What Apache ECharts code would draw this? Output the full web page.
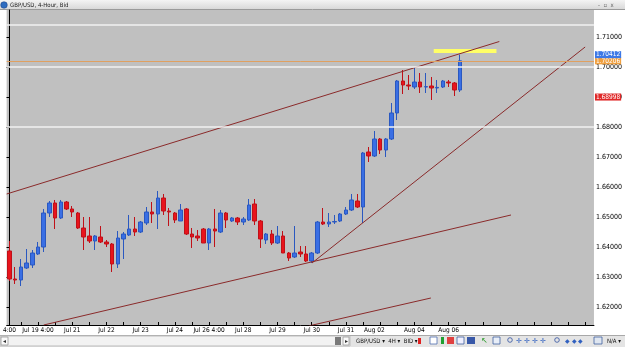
<!DOCTYPE html>
<html><head><meta charset="utf-8">
<script src="https://cdn.jsdelivr.net/npm/echarts@6/dist/echarts.min.js"></script>
<style>html,body{margin:0;padding:0;background:#fff}#c{width:625px;height:347px}</style>
</head><body><div id="c"></div>
<script>
// ---- data (GBP/USD, 4-Hour, Bid) ----
const opens  = [1.63867,1.62933,1.62900,1.63300,1.63400,1.63767,1.64000,1.65133,1.65467,1.64967,
                1.65500,1.65267,1.65133,1.64633,1.64367,1.64200,1.64333,1.64167,1.64100,1.63433,
                1.64267,1.64400,1.64600,1.64500,1.64800,1.65167,1.65100,1.65633,1.65200,1.65133,
                1.64867,1.65267,1.64433,1.64367,1.64600,1.64133,1.64600,1.64500,1.65133,1.64867,
                1.64967,1.64833,1.64900,1.65433,1.64867,1.64233,1.64433,1.64133,1.64367,1.63800,
                1.63667,1.63833,1.63767,1.63533,1.63800,1.64833,1.64767,1.64833,1.64867,1.65100,
                1.65233,1.65533,1.65333,1.67167,1.67033,1.67600,1.67233,1.67600,1.68467,1.69533,
                1.69400,1.69333,1.69500,1.69333,1.69367,1.69300,1.69333,1.69500,1.69467,1.69233];
const closes = [1.62933,1.62900,1.63333,1.63467,1.63800,1.64000,1.65133,1.65467,1.64967,1.65500,
                1.65267,1.65167,1.64633,1.64333,1.64200,1.64367,1.64167,1.64100,1.63433,1.64300,
                1.64433,1.64600,1.64500,1.64833,1.65167,1.65100,1.65633,1.65200,1.65167,1.64900,
                1.65233,1.64433,1.64333,1.64300,1.64133,1.64600,1.64533,1.65133,1.64900,1.64967,
                1.64833,1.64933,1.65400,1.64867,1.64267,1.64433,1.64133,1.64367,1.63800,1.63633,
                1.63800,1.63767,1.63533,1.63800,1.64833,1.64767,1.64833,1.64850,1.65100,1.65233,
                1.65567,1.65333,1.67133,1.67033,1.67600,1.67233,1.67600,1.68467,1.69533,1.69400,
                1.69367,1.69500,1.69333,1.69345,1.69300,1.69320,1.69533,1.69467,1.69233,1.70206];
const lows   = [1.62867,1.62767,1.62700,1.63267,1.63300,1.63733,1.63833,1.65000,1.64600,1.64933,
                1.65233,1.65000,1.64600,1.63900,1.64133,1.63900,1.64133,1.64000,1.63167,1.63300,
                1.63600,1.64367,1.64367,1.64467,1.64733,1.64800,1.64600,1.65067,1.64700,1.64800,
                1.64867,1.64400,1.63967,1.64200,1.64133,1.63900,1.64000,1.64467,1.64633,1.64833,
                1.64733,1.64733,1.64867,1.64733,1.63967,1.64100,1.64067,1.64100,1.63800,1.63533,
                1.63633,1.63667,1.63500,1.63467,1.63767,1.64733,1.64667,1.64767,1.64833,1.65067,
                1.65200,1.65300,1.64800,1.66833,1.67000,1.67100,1.67000,1.67567,1.68233,1.69100,
                1.69233,1.69267,1.69133,1.69133,1.68900,1.69133,1.69300,1.69333,1.69033,1.69167];
const highs  = [1.64200,1.63333,1.63600,1.63933,1.63900,1.64167,1.65267,1.65533,1.65567,1.65567,
                1.65533,1.65367,1.65167,1.65000,1.65000,1.64400,1.64700,1.64233,1.64133,1.64533,
                1.64500,1.65067,1.65000,1.64867,1.65333,1.65500,1.65867,1.65767,1.65300,1.65167,
                1.65433,1.65300,1.64633,1.64567,1.64633,1.64633,1.65267,1.65233,1.65167,1.65000,
                1.65000,1.65000,1.65600,1.65600,1.64900,1.64467,1.64567,1.64700,1.64533,1.63833,
                1.64700,1.64033,1.64033,1.63833,1.64867,1.65300,1.65133,1.65067,1.65133,1.65333,
                1.65767,1.65767,1.67167,1.67333,1.67867,1.67633,1.67633,1.68800,1.69567,1.69900,
                1.69733,1.70000,1.69800,1.69800,1.69667,1.69567,1.69567,1.69567,1.69500,1.70412];
const slotCount = 103;                       // candles + empty right margin
const labelIdx  = [0, 5, 11, 17, 23, 29, 35, 41, 47, 53, 59, 64, 71, 77];
const labelText = ['4:00','Jul 19 4:00','Jul 21','Jul 22','Jul 23','Jul 24','Jul 26 4:00',
                   'Jul 28','Jul 29','Jul 30','Jul 31','Aug 02','Aug 04','Aug 06'];
const yTicks    = [1.62,1.63,1.64,1.65,1.66,1.67,1.68,1.69,1.70,1.71];
const hLevels   = [1.714, 1.700, 1.680];     // white horizontal lines
const bidLevel  = 1.70206;
const askLevel  = 1.70412;
const alertLevel = 1.68998;
// trend lines: [candle index, price]
const trendUpper = [[-0.5, 1.65767], [85.9, 1.7085]];
const trendRise  = [[53.05, 1.63467], [100.95, 1.70667]];
const trendLower = [[6.0, 1.6140], [87.95, 1.65067]];
const trendLow2  = [[52.5, 1.6137], [73.9, 1.6230]];
const yellowSeg  = [[74.4, 1.70533], [85.4, 1.70533]];

// ---- build ----
const categories = Array.from({length: slotCount}, () => '');
labelIdx.forEach((k, j) => { categories[k] = labelText[j]; });
const candles = opens.map((o, i) => [o, closes[i], lows[i], highs[i]]);

const FF = "'Liberation Sans Narrow','DejaVu Sans Condensed',Arial,sans-serif";
const chart = echarts.init(document.getElementById('c'), null, {renderer: 'canvas'});
const tagLabel = (bg, v) => ({
  show: true, position: 'end', distance: 1,
  formatter: () => v.toFixed(5),
  backgroundColor: bg, color: '#fff', fontSize: 6.5, fontFamily: FF,
  padding: [0, 1, 0, 1], lineHeight: 7
});
const trend = (d) => ({
  type: 'line', xAxisIndex: 1, yAxisIndex: 0, data: d, symbol: 'none', silent: true,
  lineStyle: {color: '#8a2a2a', width: 1}, z: 4, animation: false
});

chart.setOption({
  backgroundColor: '#ffffff',
  animation: false,
  grid: {left: 0, right: 23, top: 10, bottom: 22, show: true, backgroundColor: '#c0c0c0', borderWidth: 0},
  xAxis: [{
    type: 'category', data: categories, boundaryGap: true,
    axisLine: {show: true, lineStyle: {color: '#000', width: 1}},
    axisTick: {show: true, inside: true, length: 3, alignWithLabel: true,
               interval: (i) => i % 3 === 2, lineStyle: {color: '#000'}},
    axisLabel: {interval: (i, v) => v !== '', fontSize: 6.5, color: '#000', margin: 2, fontFamily: FF},
    splitLine: {show: false}
  }, {
    type: 'value', min: -0.5, max: slotCount - 0.5, show: false
  }],
  yAxis: {
    type: 'value', position: 'right', min: 1.614, max: 1.719, scale: true,
    axisLine: {show: true, lineStyle: {color: '#000', width: 1}},
    axisTick: {show: true, inside: true, length: 3, customValues: yTicks, lineStyle: {color: '#000'}},
    axisLabel: {customValues: yTicks, formatter: v => v.toFixed(5), fontSize: 7, color: '#000',
                margin: 2, fontFamily: FF},
    splitLine: {show: false}
  },
  series: [
    {
      type: 'candlestick', xAxisIndex: 0, yAxisIndex: 0, data: candles, barWidth: 4,
      itemStyle: {color: '#3a6fe4', color0: '#e8141c', borderColor: '#2a58c0', borderColor0: '#c01018',
                  borderColorDoji: '#2a58c0', borderWidth: 1},
      markLine: {
        symbol: ['none', 'none'], silent: true, animation: false, precision: 5, label: {show: false},
        data: [
          ...hLevels.map(v => ({yAxis: v, lineStyle: {color: '#f2f2f2', width: 1.5, type: 'solid'}})),
          {yAxis: bidLevel, lineStyle: {color: '#e0a060', width: 1, type: 'solid'}, label: tagLabel('#f0a040', bidLevel)},
          {yAxis: askLevel, lineStyle: {color: 'rgba(0,0,0,0)', width: 1}, label: tagLabel('#3c78e6', askLevel)},
          {yAxis: alertLevel, lineStyle: {color: 'rgba(0,0,0,0)', width: 1}, label: tagLabel('#e02828', alertLevel)}
        ]
      }
    },
    trend(trendUpper), trend(trendRise), trend(trendLower), trend(trendLow2),
    {
      type: 'line', xAxisIndex: 1, yAxisIndex: 0, data: yellowSeg, symbol: 'none', silent: true,
      lineStyle: {color: '#ffff66', width: 4}, z: 3, animation: false
    }
  ],
  graphic: [
    // title bar
    {type: 'rect', shape: {x: 0, y: 0, width: 625, height: 10}, silent: true,
     style: {fill: new echarts.graphic.LinearGradient(0, 0, 0, 1, [{offset: 0, color: '#f4f4f4'}, {offset: 1, color: '#d6d6d6'}])}},
    {type: 'line', shape: {x1: 0, y1: 9.5, x2: 625, y2: 9.5}, style: {stroke: '#9a9a9a', lineWidth: 1}, silent: true},
    {type: 'circle', shape: {cx: 4, cy: 5, r: 3.3}, style: {fill: '#2e6cc0', stroke: '#1a3f80', lineWidth: 0.5}, silent: true},
    {type: 'text', x: 10, y: 5, silent: true,
     style: {text: 'GBP/USD, 4-Hour, Bid', fontSize: 6, fontFamily: FF, fill: '#222', verticalAlign: 'middle'}},
    {type: 'text', x: 598, y: 5, silent: true,
     style: {text: '-  \u25ab  x', fontSize: 6, fontFamily: FF, fill: '#666', verticalAlign: 'middle'}},
    // bottom toolbar
    {type: 'rect', shape: {x: 0, y: 335, width: 625, height: 12}, style: {fill: '#e4e4e4'}, silent: true},
    {type: 'line', shape: {x1: 0, y1: 335.5, x2: 625, y2: 335.5}, style: {stroke: '#a8a8a8', lineWidth: 1}, silent: true},
    {type: 'rect', shape: {x: 0, y: 336, width: 350, height: 10}, style: {fill: '#f2f2f2', stroke: '#bdbdbd', lineWidth: 1}, silent: true},
    {type: 'rect', shape: {x: 1, y: 337, width: 7, height: 8}, style: {fill: '#fafafa', stroke: '#999', lineWidth: 0.8}, silent: true},
    {type: 'text', x: 4.5, y: 341, silent: true, style: {text: '\u25c2', fontSize: 6, fill: '#333', align: 'center', verticalAlign: 'middle'}},
    {type: 'rect', shape: {x: 335, y: 337, width: 6, height: 8}, style: {fill: '#7a7a7a'}, silent: true},
    {type: 'rect', shape: {x: 343, y: 337, width: 6, height: 8}, style: {fill: '#fafafa', stroke: '#999', lineWidth: 0.8}, silent: true},
    {type: 'text', x: 346, y: 341, silent: true, style: {text: '\u25b8', fontSize: 6, fill: '#333', align: 'center', verticalAlign: 'middle'}},
    {type: 'text', x: 356, y: 341, silent: true,
     style: {text: 'GBP/USD \u25be  4H \u25be  BID \u25be', fontSize: 6, fontFamily: FF, fill: '#111', verticalAlign: 'middle'}},
    {type: 'rect', shape: {x: 418, y: 338, width: 3, height: 6}, style: {fill: '#e02020'}, silent: true},
    {type: 'rect', shape: {x: 430, y: 337, width: 7, height: 7}, style: {fill: '#fff', stroke: '#5070b0', lineWidth: 0.8}, silent: true},
    {type: 'rect', shape: {x: 441, y: 337, width: 3, height: 7}, style: {fill: '#20a030'}, silent: true},
    {type: 'rect', shape: {x: 447, y: 337, width: 7, height: 7}, style: {fill: '#e04040'}, silent: true},
    {type: 'rect', shape: {x: 457, y: 337, width: 7, height: 7}, style: {fill: '#f0f0ff', stroke: '#4060a0', lineWidth: 0.8}, silent: true},
    {type: 'rect', shape: {x: 467, y: 337, width: 8, height: 7}, style: {fill: '#3858a8'}, silent: true},
    {type: 'text', x: 481, y: 341, silent: true, style: {text: '\u2196', fontSize: 8, fill: '#2a9a2a', verticalAlign: 'middle'}},
    {type: 'rect', shape: {x: 493, y: 337, width: 7, height: 7}, style: {fill: '#e8eef8', stroke: '#4060a0', lineWidth: 0.8}, silent: true},
    {type: 'circle', shape: {cx: 510, cy: 340, r: 2.3}, style: {fill: 'none', stroke: '#3050a0', lineWidth: 0.8}, silent: true},
    {type: 'text', x: 516, y: 341, silent: true, style: {text: '\u271b \u271b \u271b \u271b', fontSize: 7, fill: '#3060c0', verticalAlign: 'middle'}},
    {type: 'circle', shape: {cx: 557, cy: 340, r: 2.3}, style: {fill: 'none', stroke: '#3050a0', lineWidth: 0.8}, silent: true},
    {type: 'text', x: 565, y: 341, silent: true, style: {text: '\u25c6 \u25c6 \u25c6', fontSize: 6, fill: '#3060c0', verticalAlign: 'middle'}},
    {type: 'rect', shape: {x: 594, y: 337, width: 8, height: 7}, style: {fill: '#dfe6f0', stroke: '#4060a0', lineWidth: 0.8}, silent: true},
    {type: 'text', x: 607, y: 341, silent: true,
     style: {text: 'N/A \u25be', fontSize: 6, fontFamily: FF, fill: '#111', verticalAlign: 'middle'}}
  ]
});
</script>
</body></html>
